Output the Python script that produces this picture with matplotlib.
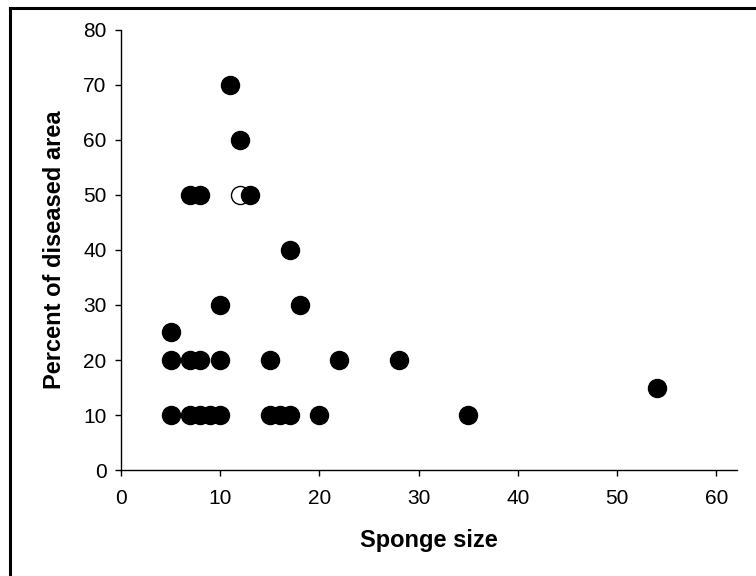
import matplotlib
matplotlib.use("Agg")
import matplotlib.pyplot as plt
from matplotlib.lines import Line2D

plt.rcParams['font.family'] = ['Liberation Sans', 'DejaVu Sans']

# data
filled_x = [11, 12, 7, 8, 13, 17, 10, 18, 5,
            5, 7, 8, 10, 15, 22, 28, 54,
            5, 7, 8, 9, 10, 15, 16, 17, 20, 35]
filled_y = [70, 60, 50, 50, 50, 40, 30, 30, 25,
            20, 20, 20, 20, 20, 20, 20, 15,
            10, 10, 10, 10, 10, 10, 10, 10, 10, 10]
open_x = [12]
open_y = [50]

xticks = [0, 10, 20, 30, 40, 50, 60]
yticks = [0, 10, 20, 30, 40, 50, 60, 70, 80]

fig = plt.figure(figsize=(7.56, 5.76), dpi=100)
ax = fig.add_axes([0.160, 0.184, 0.815, 0.764])

ax.plot(open_x, open_y, 'o', ms=13, mfc='white', mec='black', mew=1, linestyle='none', zorder=3, clip_on=False)
ax.plot(filled_x, filled_y, 'o', ms=13, mfc='black', mec='black', linestyle='none', zorder=4, clip_on=False)

ax.set_xlim(0, 62.1)
ax.set_ylim(0, 80)
ax.set_xticks(xticks)
ax.set_yticks(yticks)
ax.spines['top'].set_visible(False)
ax.spines['right'].set_visible(False)
for s in ('left', 'bottom'):
    ax.spines[s].set_linewidth(1.0)
ax.tick_params(direction='out', length=4.5, width=1, labelsize=15)
ax.tick_params(axis='x', pad=9)
ax.tick_params(axis='y', pad=6)

ax.set_xlabel('Sponge size', fontsize=17, fontweight='bold', labelpad=15)
ax.set_ylabel('Percent of diseased area', fontsize=17, fontweight='bold', labelpad=12)

# figure frame (top and left edges visible)
fig.add_artist(Line2D([10/756, 1.0], [1 - 8/576, 1 - 8/576], transform=fig.transFigure, color='black', lw=2.2))
fig.add_artist(Line2D([10/756, 10/756], [0, 1 - 8/576], transform=fig.transFigure, color='black', lw=2.2))

fig.savefig('out.png', dpi=100)
